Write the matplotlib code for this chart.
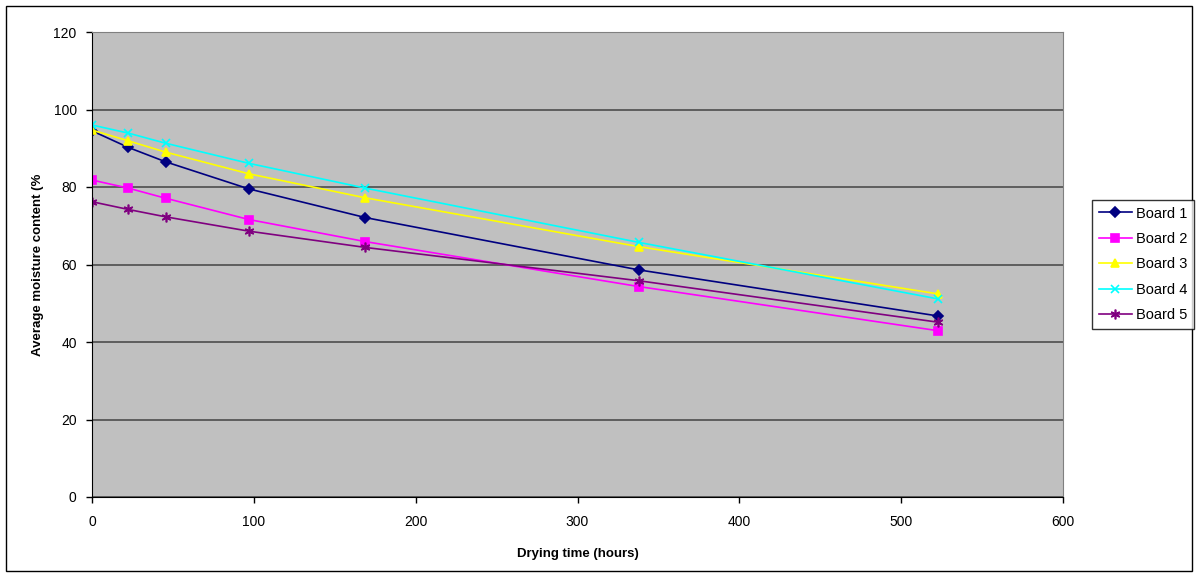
import matplotlib

matplotlib.use("Agg")

import matplotlib.pyplot as plt
from matplotlib.patches import Rectangle

plt.rc("font", family=["Liberation Sans", "DejaVu Sans"], size=10)

# Data
hours = [0, 22.5, 45.5, 97, 169, 338, 523]
board1 = [94.5, 90.2, 86.5, 79.5, 72.1, 58.6, 46.7]
board2 = [81.8, 79.7, 77.1, 71.6, 65.9, 54.3, 42.9]
board3 = [94.7, 91.9, 89.0, 83.4, 77.2, 64.6, 52.4]
board4 = [96.0, 93.9, 91.3, 86.1, 79.7, 65.7, 51.1]
board5 = [76.2, 74.2, 72.3, 68.6, 64.4, 55.8, 45.1]
labels = ["Board 1", "Board 2", "Board 3", "Board 4", "Board 5"]

W, H = 1198, 577
fig = plt.figure(figsize=(W / 100, H / 100), dpi=100)
ax = fig.add_axes([92 / W, 1 - 497 / H, (1063 - 92) / W, (497 - 32) / H])
ax.set_facecolor("#C0C0C0")

# outer chart border
fig.patches.append(
    Rectangle((6 / W, 6 / H), (W - 12) / W, (H - 12) / H, transform=fig.transFigure,
              fill=False, edgecolor="black", linewidth=1)
)

styles = [
    ("#000080", "D", 5),
    ("#FF00FF", "s", 5.5),
    ("#FFFF00", "^", 6),
    ("#00FFFF", "x", 6),
    ("#800080", (6, 2, 0), 7),
]
series = [board1, board2, board3, board4, board5]
for vals, lab, (col, mk, ms) in zip(series, labels, styles):
    ax.plot(hours, vals, color=col, marker=mk, markersize=ms, linewidth=1.2,
            markeredgewidth=1.2, label=lab)

ax.set_xlim(0, 600)
ax.set_ylim(0, 120)
ax.set_xticks(range(0, 601, 100))
ax.set_yticks(range(0, 121, 20))
ax.yaxis.grid(True, color="#4d4d4d", linewidth=1.2)
ax.set_axisbelow(True)
ax.tick_params(axis="x", direction="out", length=4, width=1, colors="black", pad=9)
ax.tick_params(axis="y", direction="out", length=4, width=1, colors="black", pad=7)

for side in ["top", "right"]:
    ax.spines[side].set_color("#808080")
for side in ["left", "bottom"]:
    ax.spines[side].set_color("black")

ax.set_xlabel("Drying time (hours)", fontweight="bold", fontsize=9.5, labelpad=14)
ax.set_ylabel("Average moisture content (%", fontweight="bold", fontsize=9.5, labelpad=7)

leg = fig.legend(loc="upper left", bbox_to_anchor=(1092 / W, 1 - 200 / H),
                 frameon=True, fancybox=False, edgecolor="black", fontsize=10.5,
                 borderpad=0.45, labelspacing=0.78, handlelength=2.3,
                 handletextpad=0.3, borderaxespad=0)
leg.get_frame().set_linewidth(1)

fig.savefig("out.png", dpi=100)
